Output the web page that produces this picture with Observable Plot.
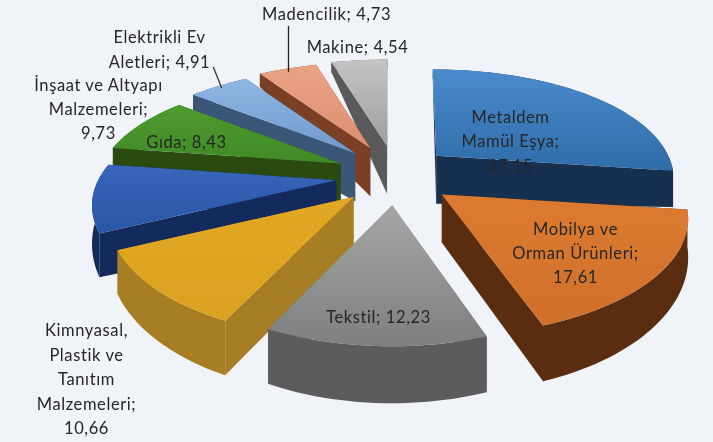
<!DOCTYPE html>
<html>
<head>
<meta charset="utf-8">
<script src="https://cdn.jsdelivr.net/npm/d3@7"></script>
<script src="https://cdn.jsdelivr.net/npm/@observablehq/plot@0.6"></script>
<style>
html,body{margin:0;padding:0;background:#f0f3f7;overflow:hidden}
svg{display:block;filter:blur(0.6px)}
</style>
</head>
<body>
<div id="chart"></div>
<script>
// data, clockwise from twelve o'clock
const categories = ["Metaldem\nMamül Eşya","Mobilya ve\nOrman Ürünleri","Tekstil","Kimnyasal,\nPlastik ve\nTanıtım\nMalzemeleri","İnşaat ve Altyapı\nMalzemeleri","Gıda","Elektrikli Ev\nAletleri","Madencilik","Makine"];
const values = [27.15,17.61,12.23,10.66,9.73,8.43,4.91,4.73,4.54];
const valueLabels = ["27,15","17,61","12,23","10,66","9,73","8,43","4,91","4,73","4,54"];
const separators = [";\n",";\n","; ",";\n",";\n","; ","; ","; ","; "];

// styles
const topA  = ["#4a8bcd","#dc7b30","#a6a6a6","#e2a823","#3766bb","#4f9c2e","#8fb7e4","#eba283","#c4c4c4"];
const topB  = ["#2f6ca8","#d0702a","#7f7f7f","#dca21f","#2857a5","#3f8a26","#7099cc","#dc8f70","#9f9f9f"];
const side  = ["#17304f","#5a2d10","#5c5c5c","#a87e24","#14295c","#2a4a10","#3c5678","#7a3f25","#5a5a5a"];
const drawOrder = [8,7,6,5,4,0,3,1,2];

// geometry of the exploded perspective pie
const cx=395, cy=175, exX=60, exY=30, R=238, Ry=107, kx=0.2, ky=0.24;
const explodeScale=[0.9,1,1,1,1,1,1,1,1];
const radiusScale=[0.975,1.01,1,1,1,1,1,1,1];
const total = d3.sum(values);
const cum = d3.cumsum(values);
const slices = values.map((v,i)=>{
  const a0 = (cum[i]-v)/total*2*Math.PI, a1 = cum[i]/total*2*Math.PI, m=(a0+a1)/2;
  return {i,a0,a1,ax:cx+exX*explodeScale[i]*Math.sin(m),ay:cy-exY*Math.cos(m)};
});
function rim(sl,t){
  const Y=-Math.cos(t), sx=1/(1-kx*Y), sy=1/(1-ky*Y);
  return {x:sl.ax+(sl.ax-cx)*(sx-1)*0.5+R*radiusScale[sl.i]*Math.sin(t)*sx, y:sl.ay+Ry*Y*sy, d:33+24*Y};
}
const apexDepth=48;
function arc(sl){
  const n=Math.max(2,Math.ceil((sl.a1-sl.a0)/0.03));
  return d3.range(n+1).map(j=>rim(sl,sl.a0+(sl.a1-sl.a0)*j/n));
}

const marks=[];
const poly=(pts,fill,stroke="none",sw=0)=>marks.push(Plot.line(pts,{x:"x",y:"y",fill,stroke,strokeWidth:sw,curve:"linear"}));
for(const i of drawOrder){
  const sl=slices[i], pts=arc(sl), A={x:sl.ax,y:sl.ay};
  const Ab={x:sl.ax,y:sl.ay+apexDepth};
  const down=p=>({x:p.x,y:p.y+p.d});
  const first=pts[0], last=pts[pts.length-1];
  poly([A,first,down(first),Ab],side[i]);
  poly([A,last,down(last),Ab],side[i]);
  poly([...pts,...pts.map(down).reverse()],side[i]);
  poly([A,...pts],`url(#g${i})`);
}

// leader lines
const leaderA=[{x:288,y:26},{x:288,y:71}];
const leaderB=[{x:213,y:67},{x:221,y:87}];
marks.push(Plot.line(leaderA,{x:"x",y:"y",stroke:"#222",strokeWidth:1.3}));
marks.push(Plot.line(leaderB,{x:"x",y:"y",stroke:"#333",strokeWidth:1.3}));

// labels
const labelPlace=[[510,139,24.5],[575,251,24],[378,315,24],[86,377,24.5],[98,107,24],[186,140,24],[159,47,25],[326,12,24],[357,45,24]];
const labelData=categories.map((c,i)=>({text:c+separators[i]+valueLabels[i],x:labelPlace[i][0],y:labelPlace[i][1],lh:labelPlace[i][2]}));
for(const l of labelData){
  marks.push(Plot.text([l],{x:"x",y:"y",text:"text",fill:"#262626",fontSize:16.5,lineHeight:l.lh/16.5,fontFamily:"Lato, sans-serif",textAnchor:"middle"}));
}

const plot=Plot.plot({
  width:713,height:442,margin:0,
  x:{domain:[0,713],range:[0,713],axis:null},
  y:{domain:[0,442],range:[0,442],axis:null},
  style:{background:"#f0f3f7",letterSpacing:"0.6px"},
  marks
});
const defs=d3.select(plot).insert("defs",":first-child");
slices.forEach(({i})=>{
  const g=defs.append("linearGradient").attr("id",`g${i}`).attr("x1",0).attr("y1",0).attr("x2",0).attr("y2",1);
  g.append("stop").attr("offset","0%").attr("stop-color",topA[i]);
  g.append("stop").attr("offset","100%").attr("stop-color",topB[i]);
});
document.getElementById("chart").appendChild(plot);
</script>
</body>
</html>
